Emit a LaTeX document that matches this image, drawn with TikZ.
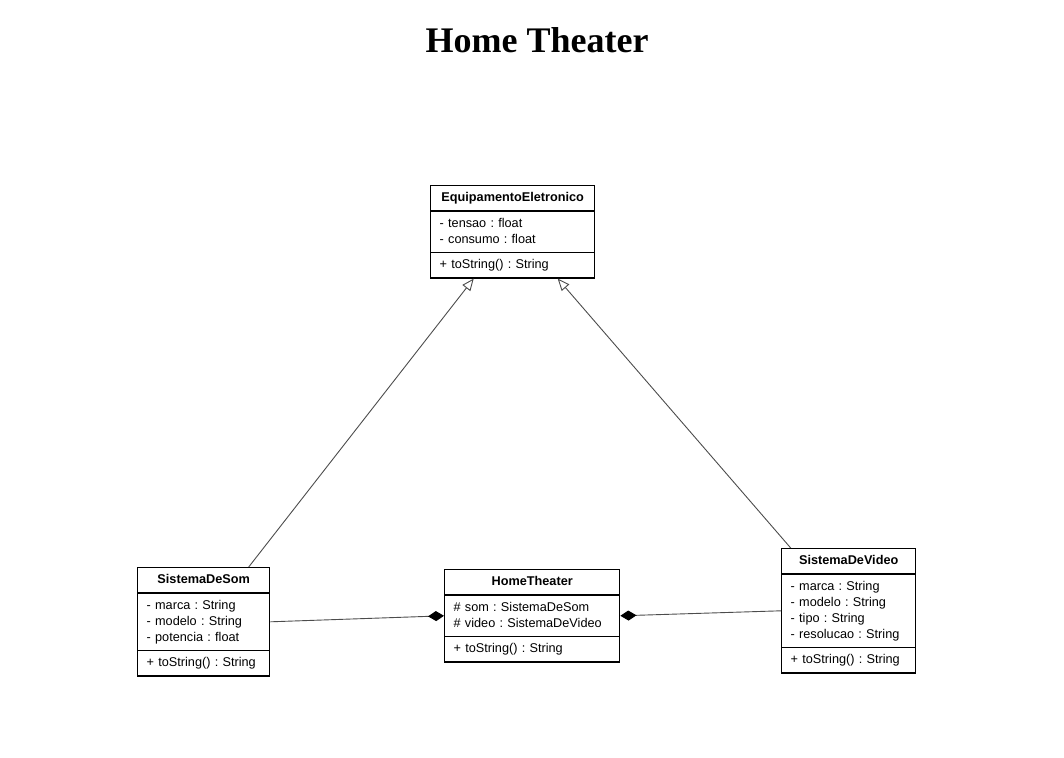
\documentclass[tikz,border=0pt]{standalone}
\usepackage{fontspec}
\setmainfont{Liberation Serif}
\newfontfamily\umlfont{Liberation Sans}
\usepackage{tikz}
\usetikzlibrary{shapes.multipart,arrows.meta}

\newcommand{\clsname}[1]{\hbox to\hsize{\hss\textbf{#1}\strut\hss}}

\begin{document}
\begin{tikzpicture}[x=1pt,y=-1pt,>={Triangle[open,length=12pt,width=10pt]}]%picture #1

  \tikzstyle{class}=[rectangle split,rectangle split parts=3,draw=black,line width=1.4pt,
                     fill=white,inner xsep=9pt,inner ysep=4pt,align=left,anchor=north west,
                     font=\umlfont\fontsize{12.7}{16}\selectfont\frenchspacing]
  \tikzstyle{inherit}=[->,draw=black!70,line width=0.9pt]
  \tikzstyle{compose}=[-{Diamond[length=16pt,width=10pt,color=black]},draw=black!70,line width=0.9pt]

  \useasboundingbox (0,0) rectangle (1064,757);

  \node[anchor=base,font=\bfseries\fontsize{36}{40}\selectfont] (title) at (537,53) {Home Theater};

  %classes
  \node[class,text width=146pt] (ee) at (430,185)
    {\clsname{EquipamentoEletronico}
     \nodepart{two}- tensao : float\strut\\- consumo : float\strut
     \nodepart{three}+ toString() : String\strut};

  \node[class,text width=114pt] (som) at (137,567)
    {\clsname{SistemaDeSom}
     \nodepart{two}- marca : String\strut\\- modelo : String\strut\\- potencia : float\strut
     \nodepart{three}+ toString() : String\strut};

  \node[class,text width=157pt] (ht) at (444,569)
    {\clsname{HomeTheater}
     \nodepart{two}\# som : SistemaDeSom\strut\\\# video : SistemaDeVideo\strut
     \nodepart{three}+ toString() : String\strut};

  \node[class,text width=116pt] (vid) at (781,548)
    {\clsname{SistemaDeVideo}
     \nodepart{two}- marca : String\strut\\- modelo : String\strut\\- tipo : String\strut\\- resolucao : String\strut
     \nodepart{three}+ toString() : String\strut};

  %generalization
  \draw[inherit] ([xshift=45pt]som.north) -- ([xshift=-39pt]ee.south);
  \draw[inherit] ([xshift=-58pt]vid.north) -- ([xshift=45pt]ee.south);

  %composition
  \draw[compose] (som.east) -- (ht.west);
  \draw[compose] (vid.west) -- (ht.east);

\end{tikzpicture}
\end{document}
